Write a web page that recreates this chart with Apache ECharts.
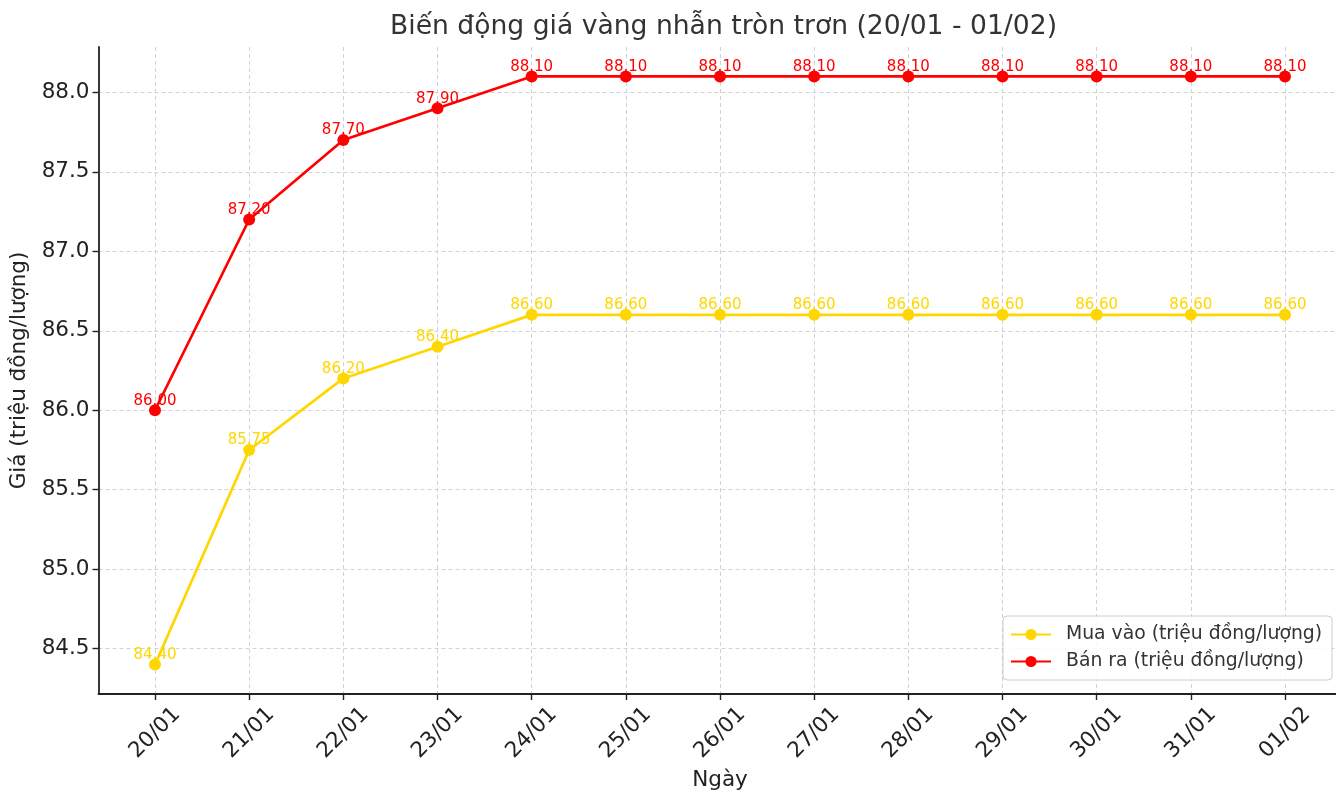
<!DOCTYPE html>
<html>
<head>
<meta charset="utf-8">
<script src="https://cdn.jsdelivr.net/npm/echarts@6/dist/echarts.min.js"></script>
<style>
html,body{margin:0;padding:0;background:#fff;}
#chart{width:1336px;height:797px;}
</style>
</head>
<body>
<div id="chart"></div>
<script>
const categories = ['20/01','21/01','22/01','23/01','24/01','25/01','26/01','27/01','28/01','29/01','30/01','31/01','01/02'];
const buyValues = [84.40, 85.75, 86.20, 86.40, 86.60, 86.60, 86.60, 86.60, 86.60, 86.60, 86.60, 86.60, 86.60];
const sellValues = [86.00, 87.20, 87.70, 87.90, 88.10, 88.10, 88.10, 88.10, 88.10, 88.10, 88.10, 88.10, 88.10];
const yTicks = [84.5, 85.0, 85.5, 86.0, 86.5, 87.0, 87.5, 88.0];
const titleText = 'Biến động giá vàng nhẫn tròn trơn (20/01 - 01/02)';
const buyName = 'Mua vào (triệu đồng/lượng)';
const sellName = 'Bán ra (triệu đồng/lượng)';

const font = 'DejaVu Sans';
const xIdx = categories.map((c, i) => i);
const mk = (vals) => vals.map((v, i) => [i, v]);

const chart = echarts.init(document.getElementById('chart'), null, {renderer: 'canvas'});
const gridLine = {show: true, lineStyle: {color: '#d2d2d2', type: [4, 3], width: 1}};
function seriesOf(name, vals, color) {
  return {
    name: name, type: 'line', data: mk(vals),
    symbol: 'circle', symbolSize: 12,
    lineStyle: {color: color, width: 2.7},
    itemStyle: {color: color},
    label: {
      show: true, position: 'top', distance: -4,
      color: color, fontFamily: font, fontSize: 15,
      formatter: p => p.value[1].toFixed(2)
    },
    emphasis: {disabled: true},
    animation: false, z: 3
  };
}
chart.setOption({
  animation: false,
  backgroundColor: '#fff',
  title: {
    text: titleText, left: 385, top: 9,
    textStyle: {fontFamily: font, fontSize: 26.6, fontWeight: 'normal', color: '#333'}
  },
  grid: {left: 98.5, top: 47, width: 1243, height: 647, containLabel: false, outerBoundsMode: 'none'},
  legend: {
    orient: 'vertical', left: 1003, top: 616,
    itemWidth: 40, itemHeight: 14, itemGap: 8,
    padding: [9, 10, 9, 7],
    backgroundColor: 'rgba(255,255,255,0.85)',
    borderColor: '#cccccc', borderWidth: 1, borderRadius: 4,
    textStyle: {fontFamily: font, fontSize: 18.8, color: '#333', padding: [0, 0, 0, 10]},
    data: [buyName, sellName]
  },
  xAxis: {
    type: 'value', min: -0.6, max: 12.6,
    name: 'Ngày', nameLocation: 'middle', nameGap: 75,
    nameTextStyle: {fontFamily: font, fontSize: 21.5, color: '#222'},
    axisLine: {show: true, onZero: false, lineStyle: {color: '#222', width: 1.8}},
    axisTick: {show: true, length: 6, customValues: xIdx, lineStyle: {color: '#222', width: 1.4}},
    axisLabel: {
      customValues: xIdx, rotate: 45, align: 'center', verticalAlign: 'middle', margin: 39,
      fontFamily: font, fontSize: 21.5, color: '#222',
      formatter: v => categories[Math.round(v)] || ''
    },
    splitLine: gridLine
  },
  yAxis: {
    type: 'value', min: 84.215, max: 88.285,
    name: 'Giá (triệu đồng/lượng)', nameLocation: 'middle', nameGap: 67,
    nameTextStyle: {fontFamily: font, fontSize: 21.5, color: '#222'},
    axisLine: {show: true, onZero: false, lineStyle: {color: '#222', width: 1.8}},
    axisTick: {show: true, length: 6, customValues: yTicks, lineStyle: {color: '#222', width: 1.4}},
    axisLabel: {
      customValues: yTicks, margin: 9,
      fontFamily: font, fontSize: 21.5, color: '#222',
      formatter: v => v.toFixed(1)
    },
    splitLine: gridLine
  },
  series: [
    seriesOf(buyName, buyValues, '#FFD700'),
    seriesOf(sellName, sellValues, '#FF0000')
  ]
});
</script>
</body>
</html>
